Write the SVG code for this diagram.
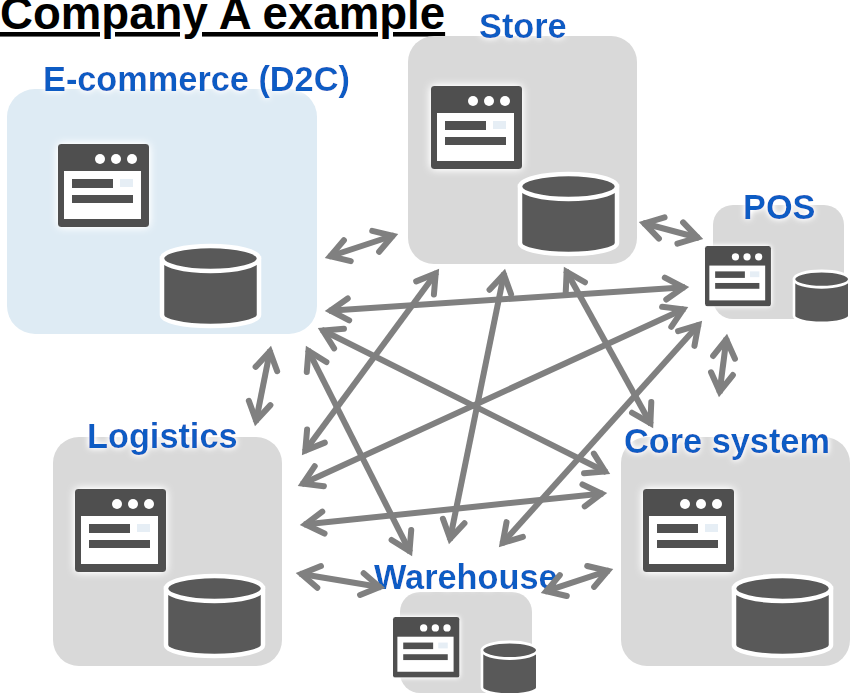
<svg xmlns="http://www.w3.org/2000/svg" xmlns:xlink="http://www.w3.org/1999/xlink" width="850" height="693" viewBox="0 0 850 693">
<style>
.box{fill:#d9d9d9}
.lbl{font-family:"Liberation Sans",Arial,sans-serif;font-weight:bold;font-size:34.3px;fill:#0b5bc4;filter:url(#glow)}
.ttl{font-family:"Liberation Sans",Arial,sans-serif;font-weight:bold;font-size:45.6px;fill:#000;text-decoration:underline;text-decoration-skip-ink:none;text-decoration-thickness:3px;text-underline-offset:4px}
#connectors line{stroke:#808080;stroke-width:6;marker-start:url(#ah);marker-end:url(#ah)}
</style>
<defs>
<filter id="glow" x="-30%" y="-30%" width="160%" height="160%"><feGaussianBlur in="SourceAlpha" stdDeviation="3"/><feColorMatrix values="0 0 0 0 1 0 0 0 0 1 0 0 0 0 1 0 0 0 1.8 0"/><feMerge><feMergeNode/><feMergeNode in="SourceGraphic"/></feMerge></filter>
<filter id="iglow" x="-30%" y="-30%" width="160%" height="160%"><feGaussianBlur in="SourceAlpha" stdDeviation="4"/><feColorMatrix values="0 0 0 0 1 0 0 0 0 1 0 0 0 0 1 0 0 0 1.6 0"/><feMerge><feMergeNode/><feMergeNode in="SourceGraphic"/></feMerge></filter>
<marker id="ah" markerUnits="userSpaceOnUse" orient="auto-start-reverse" refX="0" refY="0" markerWidth="40" markerHeight="40" overflow="visible"><path d="M-19.5,-11 L-1.5,0 L-19.5,11" fill="none" stroke="#808080" stroke-width="6" stroke-linecap="round" stroke-linejoin="miter"/></marker>
<g id="win"><g filter="url(#iglow)"><rect x="0" y="0" width="91" height="83" rx="3" fill="#505050"/></g><rect x="6" y="27" width="77" height="48" fill="#fff"/><circle cx="42" cy="15" r="5" fill="#fff"/><circle cx="58" cy="15" r="5" fill="#fff"/><circle cx="74" cy="15" r="5" fill="#fff"/><rect x="14" y="35" width="41" height="9" fill="#505050"/><rect x="14" y="51" width="61" height="8" fill="#505050"/><rect x="62" y="35" width="13" height="8" fill="#e6eef5"/></g>
<g id="cyl"><path d="M0,12.5 V69 C0,75 21,80 48.5,80 S97,75 97,69 V12.5 Z" fill="#595959" stroke="#fff" stroke-width="4.5"/><ellipse cx="48.5" cy="12.5" rx="48.5" ry="12.5" fill="#595959" stroke="#fff" stroke-width="4.5"/></g>
</defs>
<rect width="850" height="693" fill="#fff"/>
<text class="ttl" x="0" y="29">Company A example</text>
<g id="ecommerce"><rect x="7" y="89" width="310" height="245" rx="28" fill="#deebf4"/><use href="#win" x="58" y="144"/><use href="#cyl" x="162" y="246"/><text class="lbl" x="43" y="91">E-commerce (D2C)</text></g>
<g id="store"><rect class="box" x="408" y="36" width="229" height="228" rx="26"/><use href="#win" x="431" y="86"/><use href="#cyl" x="520" y="174"/><text class="lbl" x="479" y="38">Store</text></g>
<g id="pos"><rect class="box" x="713" y="205" width="131" height="114" rx="20"/><use href="#win" transform="translate(705 246) scale(.725)"/><use href="#cyl" transform="translate(794 271) scale(.57 .65)"/><text class="lbl" x="743" y="219">POS</text></g>
<g id="logistics"><rect class="box" x="53" y="437" width="229" height="229" rx="26"/><use href="#win" x="75" y="489"/><use href="#cyl" x="166" y="576"/><text class="lbl" x="87" y="448">Logistics</text></g>
<g id="core"><rect class="box" x="621" y="437" width="229" height="229" rx="26"/><use href="#win" x="643" y="489"/><use href="#cyl" x="734" y="576"/><text class="lbl" x="624" y="453">Core system</text></g>
<g id="warehouse"><rect class="box" x="400" y="592" width="132" height="101" rx="20"/><use href="#win" transform="translate(393 617) scale(.73)"/><use href="#cyl" transform="translate(482 642) scale(.57 .66)"/><text class="lbl" x="374" y="589">Warehouse</text></g>
<g id="connectors">
<line x1="329" y1="310.7" x2="685" y2="287.3"/>
<line x1="436.6" y1="272.2" x2="304.4" y2="451.8"/>
<line x1="504.2" y1="272.9" x2="449.8" y2="540.1"/>
<line x1="565.9" y1="270.5" x2="651.1" y2="424.5"/>
<line x1="301.6" y1="484.3" x2="684.4" y2="308.7"/>
<line x1="321.6" y1="329.8" x2="606.4" y2="472.2"/>
<line x1="307.8" y1="349.6" x2="410.2" y2="552.4"/>
<line x1="304" y1="524.6" x2="603" y2="493.4"/>
<line x1="699.3" y1="324" x2="501.7" y2="544"/>
<line x1="328.8" y1="256.75" x2="394.2" y2="235.25"/>
<line x1="642.9" y1="223" x2="699.1" y2="238"/>
<line x1="726.5" y1="338" x2="719.5" y2="393"/>
<line x1="270.2" y1="349.9" x2="255.8" y2="422.1"/>
<line x1="299.9" y1="573.7" x2="381.1" y2="587.3"/>
<line x1="544.8" y1="591.7" x2="609.2" y2="570.3"/>
</g>
</svg>
